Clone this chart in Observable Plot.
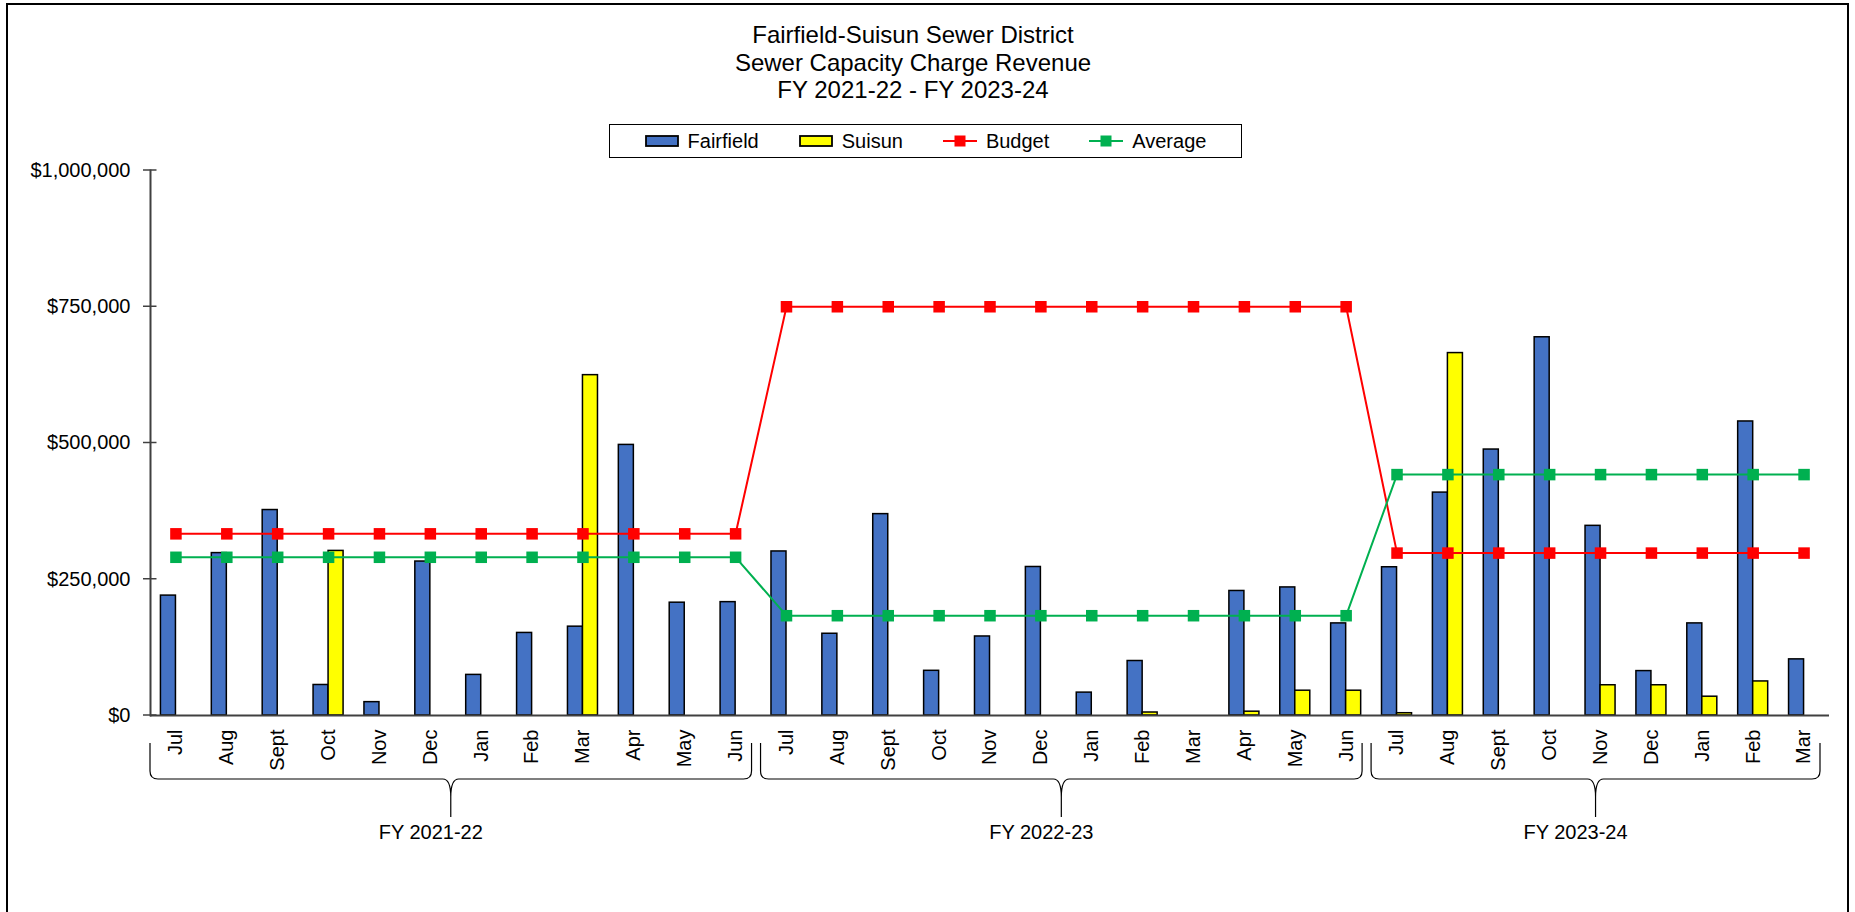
<!DOCTYPE html>
<html>
<head>
<meta charset="utf-8">
<script src="https://cdn.jsdelivr.net/npm/d3@7"></script>
<script src="https://cdn.jsdelivr.net/npm/@observablehq/plot@0.6"></script>
<style>
html, body { margin: 0; padding: 0; background: #fff; }
body { position: relative; width: 1855px; height: 912px; overflow: hidden; font-family: "Liberation Sans", Arial, sans-serif; color: #000; }
#border { position: absolute; left: 6px; top: 3px; width: 1839px; height: 1000px; border: 2px solid #000; }
#title { position: absolute; left: 0; top: 21px; width: 1826px; text-align: center; font-size: 24px; line-height: 27.5px; }
#legend { position: absolute; left: 609px; top: 124px; width: 631px; height: 32px; border: 1.5px solid #000; display: flex; align-items: center; justify-content: center; font-size: 20px; }
.item { display: flex; align-items: center; margin: 0 20px; white-space: nowrap; }
.item svg { margin-right: 9px; display: block; }
#chart { position: absolute; left: 0; top: 160px; }
</style>
</head>
<body>
<div id="border"></div>
<div id="title">Fairfield-Suisun Sewer District<br>Sewer Capacity Charge Revenue<br>FY 2021-22 - FY 2023-24</div>
<div id="legend"></div>
<div id="chart"></div>
<script>
// ---- data ----
const fiscalYears = ["FY 2021-22", "FY 2022-23", "FY 2023-24"];
const months = [
  ["Jul", "Aug", "Sept", "Oct", "Nov", "Dec", "Jan", "Feb", "Mar", "Apr", "May", "Jun"],
  ["Jul", "Aug", "Sept", "Oct", "Nov", "Dec", "Jan", "Feb", "Mar", "Apr", "May", "Jun"],
  ["Jul", "Aug", "Sept", "Oct", "Nov", "Dec", "Jan", "Feb", "Mar"]
];
const fairfield = [
  [220000, 298000, 377000, 56000, 24500, 282500, 74500, 151500, 163000, 496500, 207000, 208000],
  [301000, 150000, 369500, 82000, 145000, 272500, 42000, 100000, 0, 228500, 235000, 169000],
  [272000, 409000, 488000, 694000, 348000, 81500, 169000, 539500, 103000]
];
const suisun = [
  [0, 0, 0, 302000, 0, 0, 0, 0, 624500, 0, 0, 0],
  [0, 0, 0, 0, 0, 0, 0, 5500, 0, 7000, 45500, 45500],
  [4200, 665000, 0, 0, 55500, 55500, 34500, 62500, 0]
];
const budget = [333333, 750000, 298000];
const average = [290300, 183100, 442000];
const yTicks = [0, 250000, 500000, 750000, 1000000];
const seriesNames = ["Fairfield", "Suisun", "Budget", "Average"];
const colors = { Fairfield: "#4472C4", Suisun: "#FFFF00", Budget: "#FF0000", Average: "#00B050" };

// ---- table ----
const rows = fiscalYears.flatMap((fy, g) => months[g].map((m, i) => ({
  key: fy + "|" + m, fy, month: m,
  fairfield: fairfield[g][i], suisun: suisun[g][i],
  budget: budget[g], average: average[g]
})));
const keys = rows.map(d => d.key);

// ---- legend ----
const legend = document.getElementById("legend");
seriesNames.forEach(name => {
  const item = document.createElement("div");
  item.className = "item";
  const isBar = name === "Fairfield" || name === "Suisun";
  const sym = isBar
    ? `<svg width="34" height="12"><rect x="1" y="1" width="32" height="10" fill="${colors[name]}" stroke="#000" stroke-width="1.8"/></svg>`
    : `<svg width="34" height="12"><line x1="0" x2="34" y1="6" y2="6" stroke="${colors[name]}" stroke-width="2"/><rect x="11.5" y="0.5" width="11" height="11" fill="${colors[name]}"/></svg>`;
  item.innerHTML = sym + `<span>${name}</span>`;
  legend.appendChild(item);
});

// ---- chart ----
const W = 1855, H = 720, mT = 10, mB = 165, mL = 150;
const plot = Plot.plot({
  width: W, height: H,
  marginLeft: mL, marginRight: 26, marginTop: mT, marginBottom: mB,
  style: { fontFamily: '"Liberation Sans", Arial, sans-serif', fontSize: "20px", color: "#000", background: "transparent", overflow: "visible" },
  x: { type: "band", domain: keys, paddingInner: 0.41, paddingOuter: 0.205, round: false, label: null },
  y: { domain: [0, 1000000], label: null },
  marks: [
    Plot.barY(rows.filter(d => d.fairfield > 0), { x: "key", y: "fairfield", fill: colors.Fairfield, stroke: "#000", strokeWidth: 1.5, insetRight: 15 }),
    Plot.barY(rows.filter(d => d.suisun > 0), { x: "key", y: "suisun", fill: colors.Suisun, stroke: "#000", strokeWidth: 1.5, insetLeft: 15 }),
    Plot.ruleY([0], { stroke: "#404040", strokeWidth: 2 }),
    Plot.frame({ anchor: "left", stroke: "#404040", strokeWidth: 2 }),
    Plot.axisY({ ticks: yTicks, tickSize: 0, tickPadding: 20, tickFormat: d3.format("$,"), fill: "#000", label: null }),
    Plot.axisX({ tickRotate: -90, tickSize: 0, tickPadding: 14, tickFormat: k => k.split("|")[1], fill: "#000", label: null }),
    Plot.line(rows, { x: "key", y: "budget", stroke: colors.Budget, strokeWidth: 2 }),
    Plot.dot(rows, { x: "key", y: "budget", symbol: "square", r: 6.5, fill: colors.Budget }),
    Plot.line(rows, { x: "key", y: "average", stroke: colors.Average, strokeWidth: 2 }),
    Plot.dot(rows, { x: "key", y: "average", symbol: "square", r: 6.5, fill: colors.Average })
  ]
});
document.getElementById("chart").appendChild(plot);

const svg = d3.select(plot);

// ---- crossing y ticks, from Plot's y scale ----
const ys = plot.scale("y");
const gT = svg.append("g");
yTicks.forEach(t => {
  const y = ys.apply(t);
  gT.append("line").attr("x1", mL - 7).attr("x2", mL + 6.5).attr("y1", y).attr("y2", y)
    .attr("stroke", "#404040").attr("stroke-width", 1.5);
});

// ---- group braces and fiscal-year labels, positioned with Plot's x scale ----
const xs = plot.scale("x");
const gap = (xs.step - xs.bandwidth) / 2;
const base = H - mB;
const gBr = svg.append("g");
fiscalYears.forEach((fy, g) => {
  const ks = keys.filter(k => k.startsWith(fy + "|"));
  const s = xs.apply(ks[0]) - gap;
  const e = xs.apply(ks[ks.length - 1]) + xs.bandwidth + gap - 9;
  const c = (s + e) / 2;
  const top = base + 28, h = base + 64, cusp = base + 82, bot = base + 102, r = 8;
  const p = `M${s},${top} L${s},${h - r} Q${s},${h} ${s + r},${h} L${c - r},${h} Q${c},${h} ${c},${cusp} L${c},${bot}
             M${c},${cusp} Q${c},${h} ${c + r},${h} L${e - r},${h} Q${e},${h} ${e},${h - r} L${e},${top}`;
  gBr.append("path").attr("d", p).attr("fill", "none").attr("stroke", "#000").attr("stroke-width", 1.2);
  gBr.append("text").attr("x", c - 20).attr("y", base + 124).attr("text-anchor", "middle")
    .attr("font-size", 20).attr("fill", "#000").text(fy);
});
</script>
</body>
</html>
